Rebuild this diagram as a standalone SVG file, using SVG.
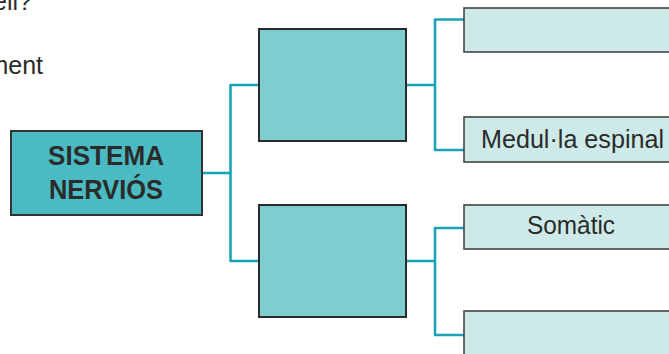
<svg xmlns="http://www.w3.org/2000/svg" width="669" height="354" viewBox="0 0 669 354">
<style>
.txt{font-family:"Liberation Sans",Arial,sans-serif;fill:#2b2b2b;}
.main{fill:#4bbbc3;stroke:#333;stroke-width:2;}
.mid{fill:#80cdd0;stroke:#2a2a2a;stroke-width:2;}
.leaf{fill:#cdeae9;stroke:#444;stroke-width:1.6;}
.conn{fill:none;stroke:#1ba3b4;stroke-width:2.6;stroke-linejoin:round;}
</style>
<rect width="669" height="354" fill="#ffffff"/>
<text class="txt" x="32" y="10" font-size="25" text-anchor="end">ell?</text>
<text class="txt" x="43" y="74" font-size="25" text-anchor="end">ment</text>
<g id="connectors">
<path class="conn" d="M202,173 H230.5 M259,85 H230.5 V261 H259"/>
<path class="conn" d="M406,85 H435 M464,19.5 H435 V150 H464"/>
<path class="conn" d="M406,261 H435 M464,228 H435 V335 H464"/>
</g>
<g id="node-sistema">
<rect class="main" x="11" y="131" width="191" height="84"/>
<text class="txt" x="48" y="165" font-size="28" font-weight="bold" fill="#222" textLength="116" lengthAdjust="spacingAndGlyphs">SISTEMA</text>
<text class="txt" x="49" y="199" font-size="28" font-weight="bold" fill="#222" textLength="114" lengthAdjust="spacingAndGlyphs">NERVIÓS</text>
</g>
<g id="node-mid-top">
<rect class="mid" x="259" y="29" width="147" height="112"/>
</g>
<g id="node-mid-bottom">
<rect class="mid" x="259" y="205" width="147" height="112"/>
</g>
<g id="node-leaf-1">
<rect class="leaf" x="464" y="8" width="216" height="44"/>
</g>
<g id="node-leaf-2">
<rect class="leaf" x="464" y="117" width="216" height="45"/>
<text class="txt" x="481" y="147.5" font-size="26" textLength="183" lengthAdjust="spacingAndGlyphs">Medul·la espinal</text>
</g>
<g id="node-leaf-3">
<rect class="leaf" x="464" y="205" width="216" height="44"/>
<text class="txt" x="527" y="234" font-size="26" textLength="88" lengthAdjust="spacingAndGlyphs">Somàtic</text>
</g>
<g id="node-leaf-4">
<rect class="leaf" x="464" y="311" width="216" height="60"/>
</g>
</svg>
